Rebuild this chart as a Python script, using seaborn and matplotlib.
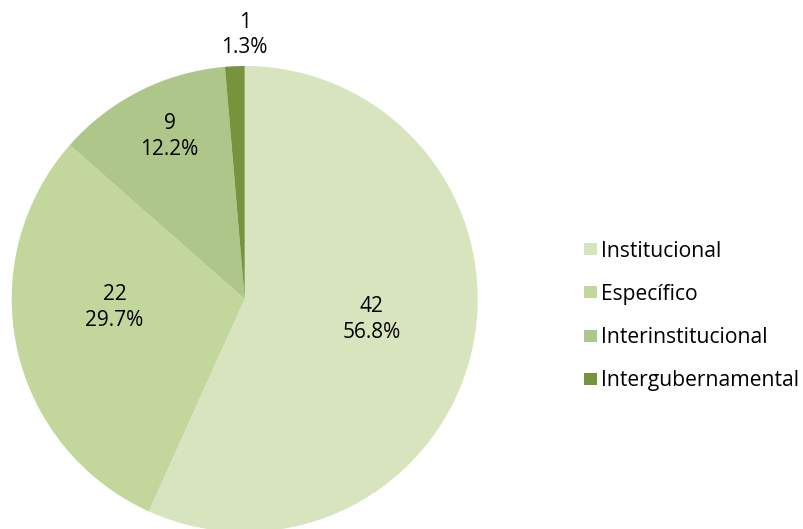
import matplotlib
matplotlib.use('Agg')
import matplotlib.pyplot as plt
import seaborn as sns
import numpy as np

sns.set_theme(style='white')
plt.rcParams['font.family'] = ['Open Sans', 'DejaVu Sans']
plt.rcParams['text.color'] = 'black'

# Datos
categorias = ['Institucional', 'Específico', 'Interinstitucional', 'Intergubernamental']
valores = [42, 22, 9, 1]
porcentajes = [56.8, 29.7, 12.2, 1.3]
colores = ['#D7E4BD', '#C3D69B', '#AEC68A', '#77933C']

# posicion de las etiquetas (radio = 1)
pos_etiquetas = [(0.546, -0.088), (-0.559, -0.036), (-0.323, 0.696), (0.0, 1.133)]

fig = plt.figure(figsize=(8.04, 5.29), dpi=100)
W, H = 804, 529
cx, cy, r = 244.7, 299.0, 233.0
ax = fig.add_axes([(cx - r) / W, (H - cy - r) / H, 2 * r / W, 2 * r / H])

wedges, _ = ax.pie(valores, colors=colores, startangle=90, counterclock=False,
                   radius=1, wedgeprops=dict(linewidth=0))
ax.set_xlim(-1, 1)
ax.set_ylim(-1, 1)
ax.set_aspect('equal')
ax.axis('off')

for v, p, (x, y) in zip(valores, porcentajes, pos_etiquetas):
    ax.text(x, y, f'{v}\n{p:.1f}%', ha='center', va='center',
            fontsize=15, color='black', linespacing=1.3)

leg = fig.legend(wedges, categorias, loc='center left',
                 bbox_to_anchor=(584 / W, (H - 316) / H), frameon=False,
                 fontsize=15.2, handlelength=0.62, handleheight=0.5, handletextpad=0.2,
                 labelspacing=1.05, borderpad=0, borderaxespad=0)
for t in leg.get_texts():
    t.set_color('black')

fig.savefig('out.png', dpi=100)
